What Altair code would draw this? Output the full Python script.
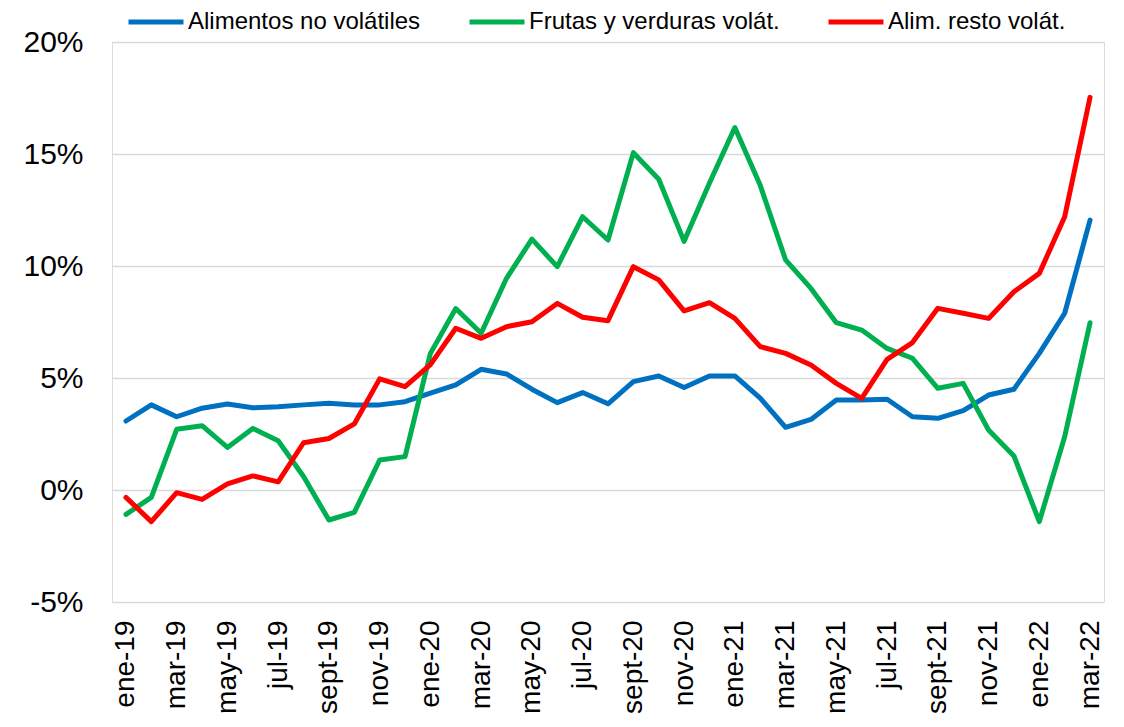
import altair as alt
import pandas as pd

months = [
    "ene-19", "feb-19", "mar-19", "abr-19", "may-19", "jun-19", "jul-19", "ago-19", "sept-19", "oct-19", "nov-19", "dic-19",
    "ene-20", "feb-20", "mar-20", "abr-20", "may-20", "jun-20", "jul-20", "ago-20", "sept-20", "oct-20", "nov-20", "dic-20",
    "ene-21", "feb-21", "mar-21", "abr-21", "may-21", "jun-21", "jul-21", "ago-21", "sept-21", "oct-21", "nov-21", "dic-21",
    "ene-22", "feb-22", "mar-22",
]

no_volatiles = [3.08, 3.80, 3.27, 3.65, 3.84, 3.67, 3.72, 3.80, 3.87, 3.80, 3.80, 3.94,
                4.32, 4.69, 5.39, 5.18, 4.50, 3.90, 4.35, 3.85, 4.84, 5.09, 4.58, 5.09,
                5.09, 4.10, 2.80, 3.15, 4.02, 4.02, 4.05, 3.27, 3.20, 3.54, 4.24, 4.50,
                6.10, 7.89, 12.05]

frutas_verduras = [-1.09, -0.33, 2.71, 2.87, 1.90, 2.75, 2.20, 0.60, -1.34, -1.00, 1.34, 1.49,
                   6.10, 8.10, 7.00, 9.45, 11.20, 9.97, 12.20, 11.16, 15.06, 13.87, 11.10, 13.70,
                   16.18, 13.60, 10.27, 9.00, 7.47, 7.14, 6.32, 5.88, 4.54, 4.76, 2.68, 1.52,
                   -1.41, 2.38, 7.47]

resto_volatiles = [-0.33, -1.41, -0.12, -0.42, 0.27, 0.63, 0.36, 2.11, 2.30, 2.95, 4.96, 4.61,
                   5.60, 7.22, 6.77, 7.29, 7.51, 8.33, 7.71, 7.56, 9.97, 9.38, 8.00, 8.36,
                   7.66, 6.40, 6.10, 5.58, 4.76, 4.09, 5.83, 6.58, 8.11, 7.89, 7.66, 8.85,
                   9.67, 12.20, 17.53]

series_names = ["Alimentos no volátiles", "Frutas y verduras volát.", "Alim. resto volát."]
series_colors = ["#0070C0", "#00B050", "#FF0000"]
y_ticks = [-5, 0, 5, 10, 15, 20]
x_ticks = months[::2]

rows = []
for name, vals in zip(series_names, [no_volatiles, frutas_verduras, resto_volatiles]):
    for m, v in zip(months, vals):
        rows.append({"mes": m, "valor": v, "serie": name})
df = pd.DataFrame(rows)

font = "Liberation Sans"

chart = alt.Chart(df).mark_line(strokeWidth=5, strokeJoin="round", strokeCap="round").encode(
    x=alt.X("mes:O", sort=months,
            scale=alt.Scale(type="point", padding=0.55),
            axis=alt.Axis(values=x_ticks, labelAngle=-90, labelFontSize=28, labelFont=font,
                          labelColor="#000000", ticks=False, domain=False, grid=False,
                          labelPadding=18, title=None, labelOverlap=False)),
    y=alt.Y("valor:Q",
            scale=alt.Scale(domain=[-5, 20], nice=False, zero=False),
            axis=alt.Axis(values=y_ticks, labelExpr="datum.value + '%'", labelFontSize=30,
                          labelFont=font, labelColor="#000000", ticks=False, domain=False,
                          grid=True, gridColor="#D9D9D9", gridWidth=1.5, labelPadding=29,
                          title=None)),
    color=alt.Color("serie:N", sort=series_names,
                    scale=alt.Scale(domain=series_names, range=series_colors),
                    legend=alt.Legend(orient="none", legendX=32, legendY=-32, direction="horizontal",
                                      title=None, symbolType="M-3,0H3", symbolSize=336,
                                      symbolStrokeWidth=5, labelFontSize=24, labelFont=font,
                                      labelColor="#000000", labelOffset=20, columnPadding=38,
                                      labelLimit=400)),
).properties(
    width=992, height=560,
    autosize=alt.AutoSizeParams(type="none"),
    padding={"left": 104, "top": 34, "right": 10, "bottom": 117},
).configure_view(stroke=None).configure(background="white")

chart.save("out.html", embed_options={"renderer": "svg", "actions": False})
